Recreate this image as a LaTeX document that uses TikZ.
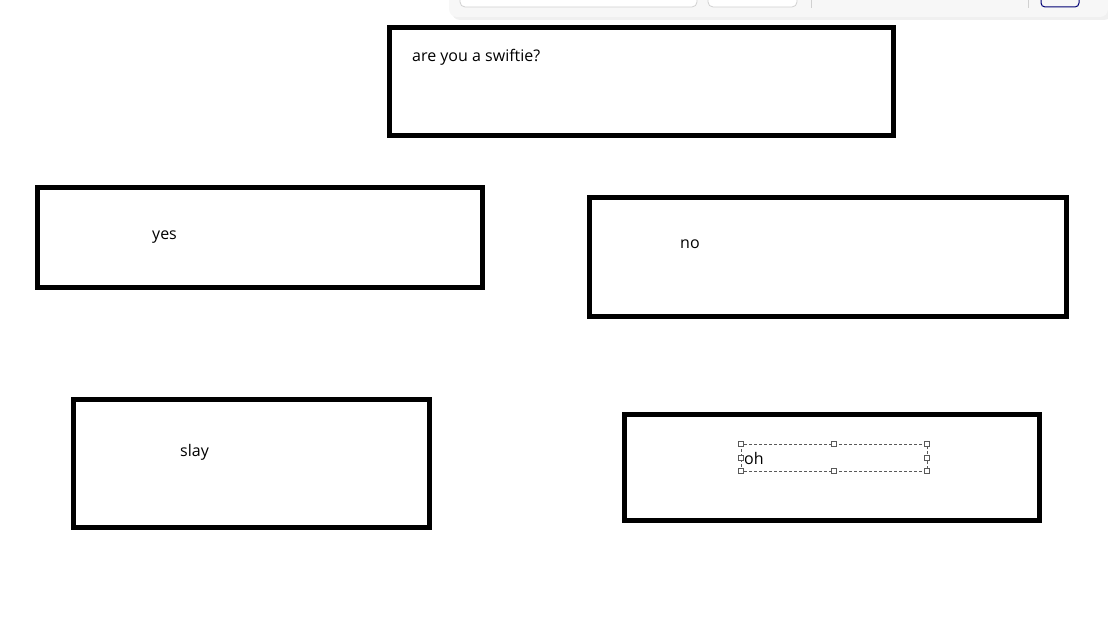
\documentclass[tikz,border=0pt]{standalone}
\usepackage{fontspec}
\setmainfont{Open Sans}
\begin{document}
\begin{tikzpicture}[x=1pt,y=-1pt,
  qbox/.style={draw=black,line width=5pt},
  lbl/.style={inner sep=0pt,anchor=base west,font=\fontsize{16}{18}\selectfont},
  handle/.style={draw=black!65,fill=white,line width=0.8pt,minimum size=4.5pt,inner sep=0pt},
  sel/.style={draw=black!65,dashed,line width=0.8pt,dash pattern=on 3pt off 2pt},
  uibox/.style={draw=black!18,fill=white,rounded corners=5pt,line width=0.8pt}]
\useasboundingbox (0,0) rectangle (1108,617);
% UI toolbar fragment
\fill[black!6,rounded corners=8pt] (452,-20) rectangle (1112,20);
\fill[black!3,rounded corners=8pt] (449,-20) rectangle (1108,17);
\draw[uibox] (460,-10) rectangle (697,7);
\draw[uibox] (708,-10) rectangle (797,7);
\draw[black!18,line width=0.8pt] (811,0) -- (811,8);
\draw[black!18,line width=0.8pt] (1028,0) -- (1028,8);
\draw[draw=blue!45!black,fill=black!3,rounded corners=4pt,line width=1pt] (1041,-10) rectangle (1079,7);
% boxes
\draw[qbox] (389.5,27.5) rectangle (893,136);
\node[lbl] (tq) at (412,62) {are you a swiftie?};
\draw[qbox] (37,188) rectangle (482,288);
\node[lbl] (tyes) at (152,240) {yes};
\draw[qbox] (589,198) rectangle (1066,317);
\node[lbl] (tno) at (680,249) {no};
\draw[qbox] (73,399) rectangle (429,527);
\node[lbl] (tslay) at (180,456) {slay};
\draw[qbox] (624,414) rectangle (1039,520);
\draw[sel] (741,444) rectangle (927,471);
\foreach \hx/\hy [count=\i] in {741/444,834/444,927/444,741/458,927/458,741/471,834/471,927/471}
  \node[handle] (h\i) at (\hx,\hy) {};
\node[lbl] (toh) at (744,464) {oh};
\end{tikzpicture}
\end{document}
